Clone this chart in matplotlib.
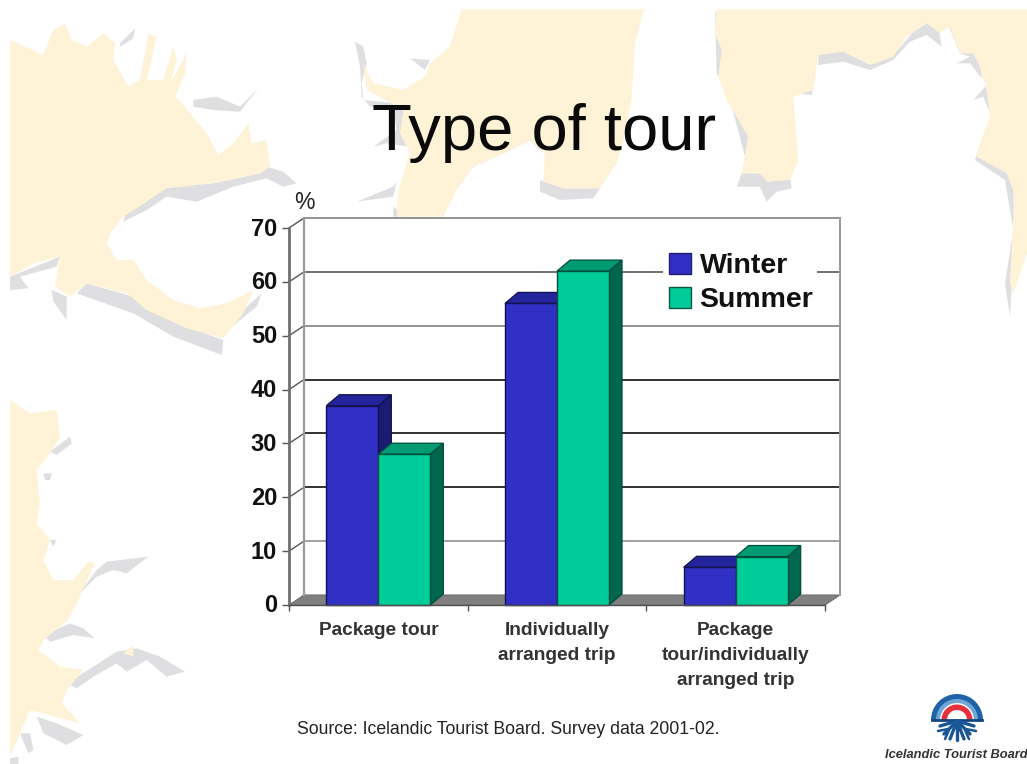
import matplotlib
matplotlib.use("Agg")
import matplotlib.pyplot as plt
from matplotlib.patches import Polygon, Rectangle, Wedge, Patch
from matplotlib.transforms import ScaledTranslation

categories = ["Package tour", "Individually\narranged trip", "Package\ntour/individually\narranged trip"]
winter = [37, 56, 7]
summer = [28, 62, 9]
yticks = [0, 10, 20, 30, 40, 50, 60, 70]
grid_colors = {10: "#9a9a9a", 20: "#222222", 30: "#222222", 40: "#222222", 50: "#8a8a8a", 60: "#666666", 70: "#8a8a8a"}

W, H = 1027, 764
plt.rcParams["font.family"] = "Liberation Sans"
fig = plt.figure(figsize=(W / 100, H / 100), dpi=100, facecolor="white")

# ---- full-figure decoration layer, in pixels
bg = fig.add_axes([0, 0, 1, 1])
bg.set_xlim(0, W)
bg.set_ylim(H, 0)
bg.axis("off")
BEIGE, GREY = "#FEF3D6", "#DFDFE1"


def shape(pts, color, ox, oy, z=1):
    bg.add_patch(Polygon([(ox + x / 3, oy + y / 3) for x, y in pts], closed=True, fc=color, ec="none", zorder=z))


grey_a = [
    [(800, 500), (850, 515), (890, 550), (850, 560), (800, 535), (700, 560), (590, 605), (500, 590), (440, 630), (370, 665), (380, 630), (450, 590), (510, 555), (640, 550), (780, 520)],
    [(230, 880), (260, 850), (400, 890), (530, 970), (670, 1020), (665, 1065), (520, 1010), (400, 940), (300, 905)],
    [(30, 830), (180, 770), (170, 800), (60, 830), (85, 865), (30, 870)],
    [(155, 870), (200, 890), (200, 960), (160, 905)],
    [(580, 300), (650, 290), (720, 320), (775, 265), (720, 335), (640, 330), (580, 320)],
    [(680, 975), (785, 880), (770, 920), (690, 985)],
    [(360, 130), (405, 85), (400, 115), (360, 140)],
]
beige_a = [(30, 120), (130, 165), (160, 90), (195, 70), (215, 120), (260, 140), (310, 100), (345, 130), (340, 180), (385, 260), (420, 240), (445, 100), (470, 110), (440, 240), (490, 240), (520, 140), (530, 180), (510, 250), (550, 180), (560, 150), (555, 220), (525, 290), (555, 320), (570, 340), (620, 400), (655, 465), (700, 430), (745, 370), (755, 430), (800, 420), (810, 500), (780, 520), (640, 550), (500, 565), (440, 605), (370, 650), (330, 700), (320, 730), (350, 780), (400, 780), (440, 840), (520, 900), (600, 925), (680, 910), (760, 870), (730, 940), (670, 1015), (560, 985), (440, 930), (380, 880), (260, 850), (210, 890), (165, 860), (180, 770), (100, 790), (30, 830)]
for p in grey_a:
    shape(p, GREY, 0, 0)
shape(beige_a, BEIGE, 0, 0, 2)

grey_b = [
    [(150, 215), (210, 170), (215, 190), (170, 225)],
    [(130, 280), (155, 280), (150, 300), (135, 300)],
    [(150, 480), (170, 480), (160, 500)],
    [(290, 570), (320, 545), (445, 530), (380, 580), (340, 570), (290, 590), (230, 650)],
    [(130, 765), (210, 730), (250, 745), (285, 775), (220, 765), (150, 785)],
    [(200, 910), (280, 860), (350, 815), (410, 805), (480, 830), (555, 875), (500, 890), (440, 840), (380, 875), (350, 850), (280, 890), (230, 925)],
    [(110, 1010), (170, 1030), (250, 1065), (200, 1095), (130, 1060)],
    [(60, 1060), (90, 1060), (100, 1110), (85, 1120)],
    [(30, 1135), (55, 1130), (55, 1152), (30, 1152)],
]
beige_b = [(30, 60), (90, 100), (170, 90), (180, 170), (150, 220), (110, 270), (120, 370), (110, 430), (150, 480), (130, 540), (160, 600), (220, 600), (265, 545), (285, 550), (230, 670), (205, 720), (130, 780), (115, 810), (180, 860), (250, 870), (200, 930), (185, 970), (240, 1030), (130, 1000), (90, 990), (60, 1060), (30, 1130)]
for p in grey_b:
    shape(p, GREY, 0, 380)
shape(beige_b, BEIGE, 0, 380, 2)
shape([(370, 820), (400, 795), (400, 830)], BEIGE, 0, 380, 2)

grey_c = [
    [(75, 125), (100, 140), (110, 190), (95, 250), (100, 300), (200, 310), (230, 330), (220, 390), (240, 440), (170, 430), (130, 440), (200, 390), (190, 330), (120, 320), (95, 290), (90, 200)],
    [(240, 175), (300, 180), (285, 210)],
    [(630, 540), (700, 565), (810, 565), (790, 595), (690, 600), (630, 575)],
    [(640, 460), (600, 420), (520, 460), (430, 500), (385, 560), (365, 590), (380, 530), (420, 490), (520, 440), (600, 410)],
    [(80, 605), (190, 560), (200, 545), (190, 590)],
    [(190, 620), (215, 640), (215, 650), (190, 650)],
]
beige_c = [(395, 28), (942, 28), (915, 130), (905, 300), (880, 420), (860, 490), (810, 565), (700, 565), (640, 545), (645, 460), (600, 420), (520, 460), (430, 500), (380, 570), (340, 650), (200, 650), (205, 570), (240, 460), (210, 400), (220, 330), (110, 270), (100, 190), (130, 250), (220, 270), (285, 230), (300, 190), (360, 140)]
for p in grey_c:
    shape(p, GREY, 330, 0)
shape(beige_c, BEIGE, 330, 0, 2)

grey_d = [
    [(105, 30), (130, 100), (125, 170), (115, 230), (145, 290), (210, 380), (195, 470), (150, 300), (110, 220)],
    [(170, 560), (185, 520), (240, 520), (265, 545), (330, 530), (335, 565), (290, 575), (260, 605), (240, 560)],
    [(345, 245), (405, 240), (395, 285), (345, 280)],
    [(415, 165), (490, 145), (570, 160), (640, 165), (700, 95), (745, 65), (775, 80), (785, 140), (740, 105), (690, 125), (640, 180), (570, 210), (490, 185), (415, 195)],
    [(805, 75), (840, 85), (860, 150), (900, 165), (905, 235), (870, 190), (830, 190), (870, 170), (840, 160)],
    [(880, 300), (915, 260), (935, 300), (930, 340), (910, 290)],
    [(900, 435), (990, 510), (1010, 600), (1000, 680), (1000, 780), (990, 950), (975, 850), (1000, 690), (985, 600), (975, 540), (885, 480)],
]
beige_d = [(110, 28), (1041, 28), (1041, 760), (1000, 880), (990, 850), (1000, 650), (1000, 570), (980, 520), (890, 470), (900, 430), (930, 350), (920, 270), (900, 200), (880, 160), (840, 160), (810, 80), (780, 100), (740, 70), (680, 110), (640, 170), (570, 195), (490, 155), (415, 165), (400, 270), (340, 290), (350, 420), (355, 480), (330, 540), (260, 545), (240, 520), (185, 520), (205, 410), (140, 300), (115, 230), (125, 150), (105, 100)]
for p in grey_d:
    shape(p, GREY, 680, 0)
shape(beige_d, BEIGE, 680, 0, 2)

# title and notes
bg.text(372, 150, "Type of tour", fontsize=46.9, color="#0a0a0a", zorder=5)
bg.text(294, 209, "%", fontsize=16.5, color="#222222", zorder=5)
bg.text(297, 734, "Source: Icelandic Tourist Board. Survey data 2001-02.", fontsize=12.7, color="#222222", zorder=5)

# logo
cx, cy = 957, 720
bg.add_patch(Wedge((cx, cy), 26, 180, 360, width=5.5, fc="#1F62A8", ec="none", zorder=3))
bg.add_patch(Wedge((cx, cy), 21, 180, 360, width=4, fc="#6FA6D6", ec="none", zorder=3))
bg.add_patch(Wedge((cx, cy), 15.5, 180, 360, width=5.5, fc="#E8303A", ec="none", zorder=3))
bg.plot([932, 982], [720, 720], color="#12467F", lw=2, zorder=3)
flake = "#1A5596"
for x2, y2 in [(940, 726), (944, 734), (950, 739), (957, 740), (964, 739), (970, 734), (974, 726)]:
    bg.plot([957, x2], [721, y2], color=flake, lw=2.4, solid_capstyle="round", zorder=3)
for x1, y1, x2, y2 in [(938, 731, 948, 729), (966, 729, 976, 731), (945, 739, 949, 730), (969, 739, 965, 730)]:
    bg.plot([x1, x2], [y1, y2], color=flake, lw=1.8, solid_capstyle="round", zorder=3)
bg.text(885, 758, "Icelandic Tourist Board", fontsize=9.3, style="italic", weight="bold",
        color="#333333", zorder=5)

# ---- chart axes: front plane of the 3-D box
L, R, B, T = 289, 825, 605, 228
ax = fig.add_axes([L / W, 1 - B / H, (R - L) / W, (B - T) / H])
ax.patch.set_alpha(0)
ax.set_xlim(0, 3)
ax.set_ylim(0, 70)
PX_X, PX_Y = (R - L) / 3, (B - T) / 70
DX, DY = 15 / PX_X, 10 / PX_Y
BDX, BDY = 13 / PX_X, 11 / PX_Y
BW = 52 / PX_X

# walls, floor and gridlines
ax.add_patch(Polygon([(0, 0), (DX, DY), (DX, 70 + DY), (3 + DX, 70 + DY), (3 + DX, DY), (3, 0)],
                     fc="white", ec="none", clip_on=False, zorder=1))
ax.add_patch(Polygon([(0, 0), (3, 0), (3 + DX, DY), (DX, DY)], fc="#808080", ec="#707070", lw=0.8, clip_on=False, zorder=2))
for v in yticks[1:]:
    ax.plot([DX, 3 + DX], [v + DY, v + DY], color=grid_colors[v], lw=1.3, clip_on=False, zorder=2)
    ax.plot([0, DX], [v, v + DY], color="#555555", lw=1.0, clip_on=False, zorder=2)
ax.plot([DX, DX], [DY, 70 + DY], color="#9a9a9a", lw=1.6, clip_on=False, zorder=2)
ax.plot([3 + DX, 3 + DX], [DY, 70 + DY], color="#9a9a9a", lw=1.4, clip_on=False, zorder=2)

# legend backing: interrupts the gridline behind the legend
ax.add_patch(Rectangle((663, 246), 154, 68, fc="white", ec="none", transform=bg.transData, clip_on=False, zorder=2.5))


def bar3d(x0, v, front, top, side, edge, z):
    x1 = x0 + BW
    ax.add_patch(Polygon([(x0, v), (x1, v), (x1 + BDX, v + BDY), (x0 + BDX, v + BDY)], fc=top, ec=edge, lw=0.9, clip_on=False, zorder=z))
    ax.add_patch(Polygon([(x1, 0), (x1 + BDX, BDY), (x1 + BDX, v + BDY), (x1, v)], fc=side, ec=edge, lw=0.9, clip_on=False, zorder=z))
    ax.bar(x0, v, width=BW, align="edge", color=front, edgecolor=edge, lw=1.0, clip_on=False, zorder=z + 0.1)


WIN = dict(front="#3030C4", top="#24249C", side="#1B1B74", edge="#12124F")
SUM = dict(front="#00CC99", top="#009A73", side="#00664D", edge="#004F3B")
for i, (w, s) in enumerate(zip(winter, summer)):
    c = i + 0.5
    bar3d(c - BW, w, z=3 + i, **WIN)
    bar3d(c, s, z=3.3 + i, **SUM)

# axes and ticks
for name in ("top", "right"):
    ax.spines[name].set_visible(False)
ax.spines["left"].set_color("#707070")
ax.spines["left"].set_linewidth(2)
ax.spines["left"].set_zorder(8)
ax.spines["bottom"].set_color("#505050")
ax.spines["bottom"].set_linewidth(1)
ax.spines["bottom"].set_zorder(8)
ax.set_yticks(yticks)
ax.set_yticklabels([str(v) for v in yticks], fontsize=17, fontweight="bold", color="#111111")
ax.tick_params(axis="y", length=5, width=1, color="#555555", pad=3.5)
for t in ax.get_yticklabels():
    t.set_transform(t.get_transform() + ScaledTranslation(0, 1.5 / 100, fig.dpi_scale_trans))
ax.set_xticks([0, 1, 2, 3], minor=True)
ax.tick_params(axis="x", which="minor", length=4, width=1, color="#555555")
ax.set_xticks([0.5, 1.5, 2.5])
ax.set_xticklabels(categories, fontsize=13.8, fontweight="bold", color="#333333", linespacing=1.64)
ax.tick_params(axis="x", which="major", length=0, pad=12)

# legend
handles = [Patch(fc=WIN["front"], ec="#222266", lw=1), Patch(fc=SUM["front"], ec="#115544", lw=1)]
leg = ax.legend(handles, ["Winter", "Summer"], loc="upper left", bbox_to_anchor=(666 / W, 1 - 250 / H),
                bbox_transform=fig.transFigure, frameon=False, borderpad=0.1, borderaxespad=0,
                prop={"family": "Liberation Sans", "weight": "bold", "size": 20.5},
                handlelength=0.78, handleheight=0.78, handletextpad=0.3, labelspacing=0.26)
leg.set_zorder(9)
for t in leg.get_texts():
    t.set_color("#111111")

fig.savefig("out.png", dpi=100, facecolor="white")
